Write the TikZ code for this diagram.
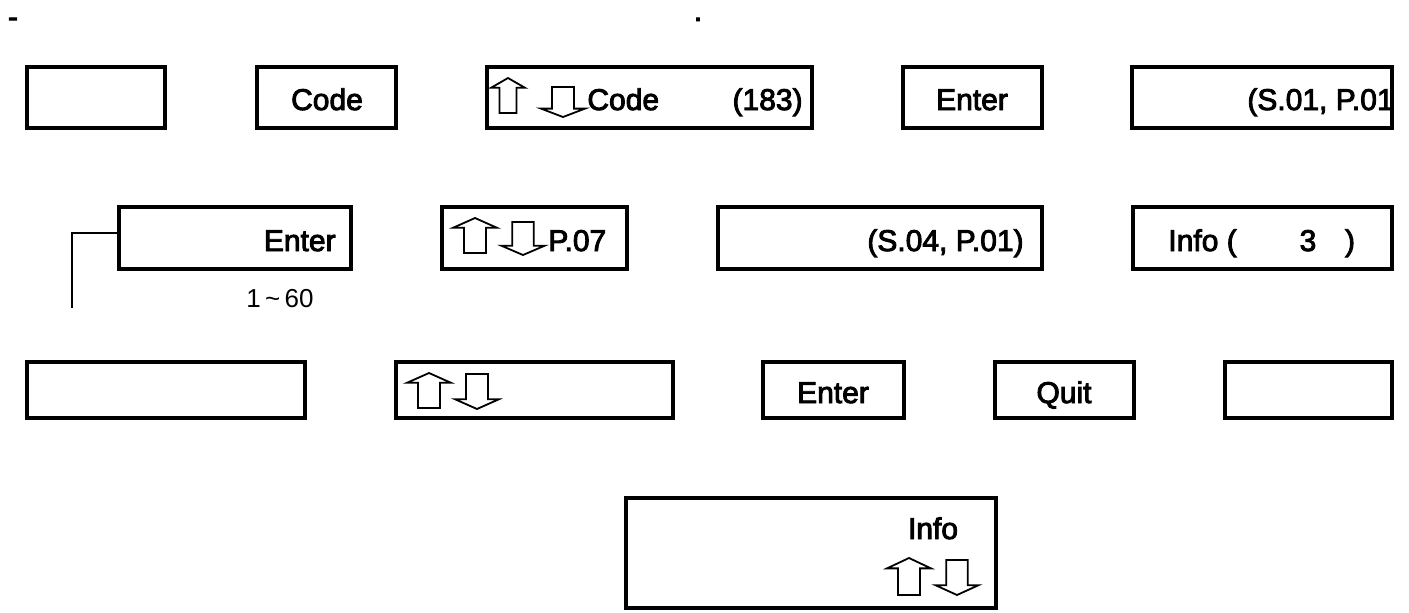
\documentclass[tikz,border=0pt]{standalone}
\usepackage{fontspec}
\setmainfont{Liberation Sans}[BoldFont={Liberation Sans}, BoldFeatures={FakeBold=3}]
\usetikzlibrary{fit}
\begin{document}
\begin{tikzpicture}[x=0.5pt,y=-0.5pt,
  box/.style={draw, line width=1.7pt, inner sep=0pt},
  lbl/.style={font=\fontsize{15}{17}\selectfont\bfseries, inner sep=0pt},
  small/.style={font=\fontsize{13}{15}\selectfont, inner sep=0pt},
  conn/.style={line width=1pt},
  arr/.style={line width=0.9pt, line join=miter},
  uparr/.pic={\draw[arr] (0,0) -- (0.5,0.28) -- (0.25,0.28) -- (0.25,1) -- (-0.25,1) -- (-0.25,0.28) -- (-0.5,0.28) -- cycle;},
  downarr/.pic={\draw[arr] (-0.25,0) -- (0.25,0) -- (0.25,0.72) -- (0.5,0.72) -- (0,1) -- (-0.5,0.72) -- (-0.25,0.72) -- cycle;}]
\useasboundingbox (0,0) rectangle (1409,612);

% top marks
\node[lbl, anchor=base] (dash) at (13,27) {-};
\node[lbl, anchor=base] (dot) at (698,21) {.};

% row 1
\node[box, fit={(27,67) (165,128)}] (r1a) {};
\node[box, fit={(257,67) (396,128)}] (r1b) {};
\node[box, fit={(487,67) (812,128)}] (r1c) {};
\node[box, fit={(903,67) (1042,128)}] (r1d) {};
\node[box, fit={(1132,67) (1392,128)}] (r1e) {};
\node[lbl, anchor=base] (t1b) at (327,110) {Code};
\pic[xscale=34, yscale=35] at (508,78) {uparr};
\pic[xscale=44, yscale=30] at (563,87) {downarr};
\node[lbl, anchor=base west] (t1c) at (587,110) {Code};
\node[lbl, anchor=base east] (t1c2) at (803,110) {(183)};
\node[lbl, anchor=base] (t1d) at (972,110) {Enter};
\node[lbl, anchor=base east] (t1e) at (1394,110) {(S.01, P.01};

% row 2
\node[box, fit={(119,207) (351,269)}] (r2a) {};
\node[box, fit={(442,207) (627,269)}] (r2b) {};
\node[box, fit={(718,207) (1042,269)}] (r2c) {};
\node[box, fit={(1133,207) (1392,269)}] (r2d) {};
\node[lbl, anchor=base east] (t2a) at (336,251) {Enter};
\pic[xscale=44, yscale=35] at (475,218) {uparr};
\pic[xscale=43, yscale=33] at (523,222) {downarr};
\node[lbl, anchor=base west] (t2b) at (548,251) {P.07};
\node[lbl, anchor=base east] (t2c) at (1024,251) {(S.04, P.01)};
\node[lbl, anchor=base west] (t2d) at (1168,251) {Info (};
\node[lbl, anchor=base] (t2d2) at (1308,251) {3};
\node[lbl, anchor=base] (t2d3) at (1350,251) {)};
\node[small, anchor=base] (range) at (280,307) {1\,\char"7E\,60};
\coordinate (c2) at (72,308);
\draw[conn] ([yshift=2.5pt]r2a.west) -| (c2);

% row 3
\node[box, fit={(27,362) (305,418)}] (r3a) {};
\node[box, fit={(396,362) (673,418)}] (r3b) {};
\node[box, fit={(763,362) (904,418)}] (r3c) {};
\node[box, fit={(995,362) (1134,418)}] (r3d) {};
\node[box, fit={(1225,362) (1392,418)}] (r3e) {};
\pic[xscale=44, yscale=35] at (429,373) {uparr};
\pic[xscale=44, yscale=35] at (477,374) {downarr};
\node[lbl, anchor=base] (t3c) at (833,403) {Enter};
\node[lbl, anchor=base] (t3d) at (1064,403) {Quit};

% bottom
\node[box, fit={(626,498) (996,608)}] (r4) {};
\node[lbl, anchor=base] (t4) at (933,539) {Info};
\pic[xscale=44, yscale=37] at (909,558) {uparr};
\pic[xscale=43, yscale=35] at (957,560) {downarr};
\end{tikzpicture}
\end{document}
